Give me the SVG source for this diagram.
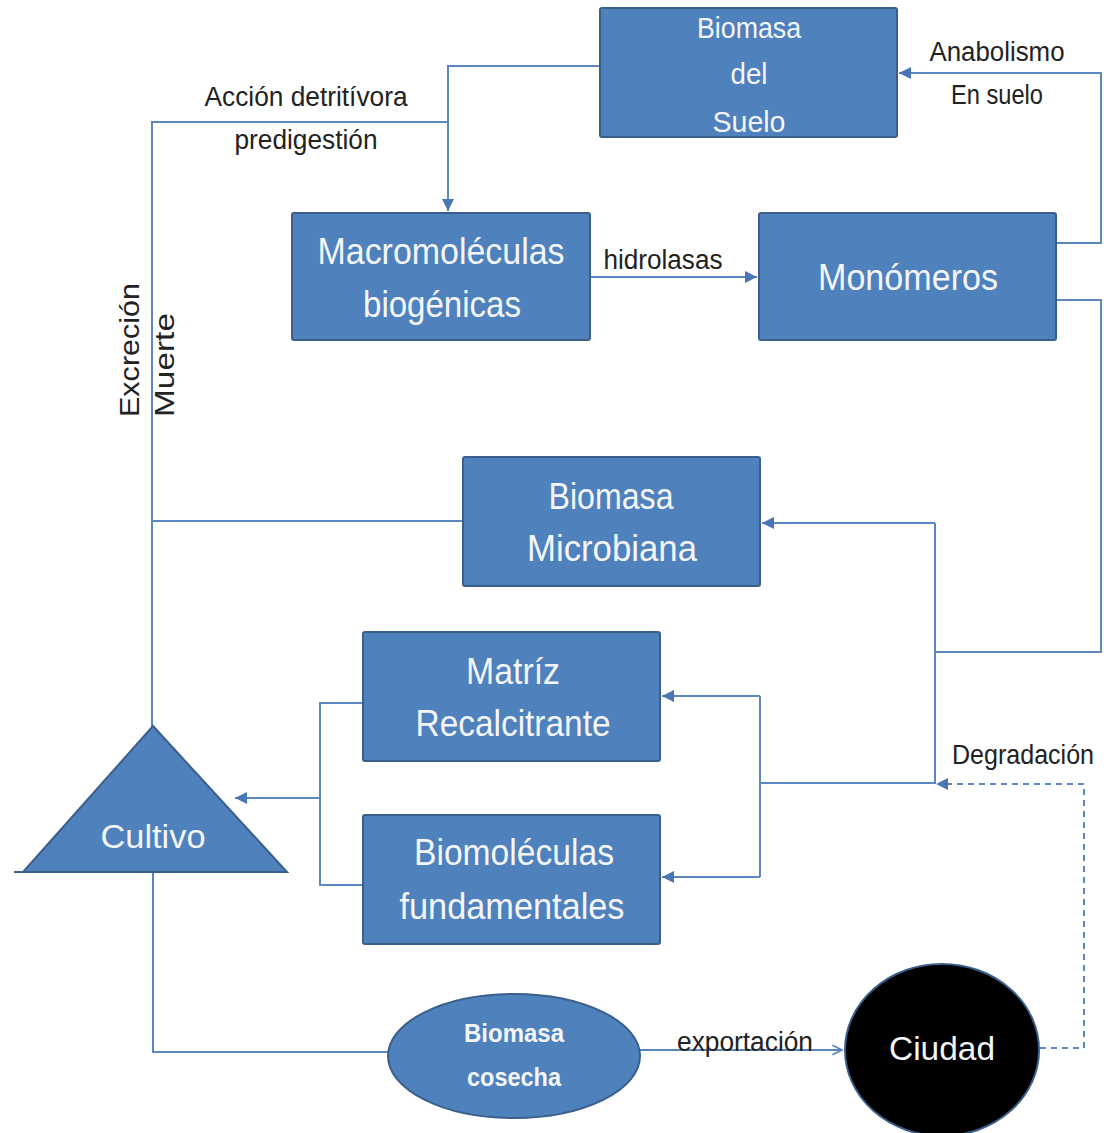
<svg xmlns="http://www.w3.org/2000/svg" width="1104" height="1133" viewBox="0 0 1104 1133">
<style>
.box{fill:#4f81bd;stroke:#3a5f8b;stroke-width:2}
.nt{fill:#f4f6fa;font-family:"Liberation Sans",Arial,sans-serif;text-anchor:middle}
.lbl{fill:#222;font-family:"Liberation Sans",Arial,sans-serif;font-size:27px;text-anchor:middle}
.ln{fill:none;stroke:#5b86c0;stroke-width:2}
.dash{fill:none;stroke:#5b86c0;stroke-width:2;stroke-dasharray:6 5}
</style>
<defs>
<marker id="arb" viewBox="0 0 10 10" refX="10" refY="5" markerWidth="12" markerHeight="12" orient="auto" markerUnits="userSpaceOnUse">
<path d="M0,0 L10,5 L0,10 z" fill="#4a76b3"/>
</marker>
<marker id="open" viewBox="0 0 10 10" refX="9" refY="5" markerWidth="12" markerHeight="14" orient="auto" markerUnits="userSpaceOnUse">
<path d="M1,1 L9,5 L1,9" fill="none" stroke="#5b86c0" stroke-width="1.5"/>
</marker>
</defs>
<g id="connectors">
<path class="ln" d="M600,66 H448 V211" marker-end="url(#arb)"/>
<path class="ln" d="M448,122 H152 V727"/>
<path class="ln" d="M463,521 H152"/>
<path class="ln" d="M590,277 H757" marker-end="url(#arb)"/>
<path class="ln" d="M1056,243 H1101 V73 H899" marker-end="url(#arb)"/>
<path class="ln" d="M1056,300 H1101 V652 H935"/>
<path class="ln" d="M935,523 V783 H760"/>
<path class="ln" d="M935,523 H762" marker-end="url(#arb)"/>
<path class="ln" d="M760,696 V877"/>
<path class="ln" d="M760,696 H662" marker-end="url(#arb)"/>
<path class="ln" d="M760,877 H662" marker-end="url(#arb)"/>
<path class="ln" d="M363,703 H320 V885 H363"/>
<path class="ln" d="M320,798 H235" marker-end="url(#arb)"/>
<path class="ln" d="M153,872 V1052 H389"/>
<path class="ln" d="M640,1050 H842" marker-end="url(#open)"/>
<path class="dash" d="M1040,1048 H1084 V784 H940"/>
<path d="M936,784 L948,778 L948,790 z" fill="#4a76b3"/>
<text class="lbl" x="306" y="106" textLength="203" lengthAdjust="spacingAndGlyphs">Acción detritívora</text>
<text class="lbl" x="306" y="149" textLength="143" lengthAdjust="spacingAndGlyphs">predigestión</text>
<text class="lbl" x="997" y="61" textLength="135" lengthAdjust="spacingAndGlyphs">Anabolismo</text>
<text class="lbl" x="997" y="104" textLength="92" lengthAdjust="spacingAndGlyphs">En suelo</text>
<text class="lbl" x="663" y="269" textLength="119" lengthAdjust="spacingAndGlyphs">hidrolasas</text>
<text class="lbl" x="1023" y="764" textLength="142" lengthAdjust="spacingAndGlyphs">Degradación</text>
<text class="lbl" x="745" y="1051" textLength="136" lengthAdjust="spacingAndGlyphs">exportación</text>
<text class="lbl" transform="translate(139,417) rotate(-90)" style="text-anchor:start" textLength="134" lengthAdjust="spacingAndGlyphs">Excreción</text>
<text class="lbl" transform="translate(174,417) rotate(-90)" style="text-anchor:start" textLength="104" lengthAdjust="spacingAndGlyphs">Muerte</text>
</g>
<g id="biomasa-suelo">
<rect class="box" x="600" y="8" width="297" height="129" rx="2"/>
<text class="nt" x="749" y="38" font-size="30" textLength="104" lengthAdjust="spacingAndGlyphs">Biomasa</text>
<text class="nt" x="749" y="84" font-size="30" textLength="37" lengthAdjust="spacingAndGlyphs">del</text>
<text class="nt" x="749" y="132" font-size="30" textLength="73" lengthAdjust="spacingAndGlyphs">Suelo</text>
</g>
<g id="macromoleculas">
<rect class="box" x="292" y="213" width="298" height="127" rx="2"/>
<text class="nt" x="441" y="264" font-size="37" textLength="247" lengthAdjust="spacingAndGlyphs">Macromoléculas</text>
<text class="nt" x="442" y="317" font-size="37" textLength="158" lengthAdjust="spacingAndGlyphs">biogénicas</text>
</g>
<g id="monomeros">
<rect class="box" x="759" y="213" width="297" height="127" rx="2"/>
<text class="nt" x="908" y="290" font-size="37" textLength="180" lengthAdjust="spacingAndGlyphs">Monómeros</text>
</g>
<g id="biomasa-microbiana">
<rect class="box" x="463" y="457" width="297" height="129" rx="2"/>
<text class="nt" x="611" y="509" font-size="36" textLength="125" lengthAdjust="spacingAndGlyphs">Biomasa</text>
<text class="nt" x="612" y="561" font-size="36" textLength="170" lengthAdjust="spacingAndGlyphs">Microbiana</text>
</g>
<g id="matriz">
<rect class="box" x="363" y="632" width="297" height="129" rx="2"/>
<text class="nt" x="513" y="684" font-size="36" textLength="94" lengthAdjust="spacingAndGlyphs">Matríz</text>
<text class="nt" x="513" y="736" font-size="36" textLength="195" lengthAdjust="spacingAndGlyphs">Recalcitrante</text>
</g>
<g id="biomoleculas">
<rect class="box" x="363" y="815" width="297" height="129" rx="2"/>
<text class="nt" x="514" y="865" font-size="36" textLength="200" lengthAdjust="spacingAndGlyphs">Biomoléculas</text>
<text class="nt" x="512" y="919" font-size="36" textLength="225" lengthAdjust="spacingAndGlyphs">fundamentales</text>
</g>
<g id="cultivo">
<path class="box" d="M153,726 L287,872 L23,872 z"/>
<line x1="14" y1="872" x2="24" y2="872" stroke="#3a5f8b" stroke-width="2"/>
<text class="nt" x="153" y="848" font-size="34" textLength="105" lengthAdjust="spacingAndGlyphs">Cultivo</text>
</g>
<g id="biomasa-cosecha">
<ellipse class="box" cx="514" cy="1056" rx="126" ry="62"/>
<text class="nt" x="514" y="1042" font-size="26" font-weight="bold" textLength="100" lengthAdjust="spacingAndGlyphs">Biomasa</text>
<text class="nt" x="514" y="1086" font-size="26" font-weight="bold" textLength="94" lengthAdjust="spacingAndGlyphs">cosecha</text>
</g>
<g id="ciudad">
<ellipse cx="942" cy="1050" rx="97" ry="86" fill="#000" stroke="#3a5f8b" stroke-width="2"/>
<text class="nt" x="942" y="1060" font-size="34" textLength="106" lengthAdjust="spacingAndGlyphs">Ciudad</text>
</g>
</svg>
